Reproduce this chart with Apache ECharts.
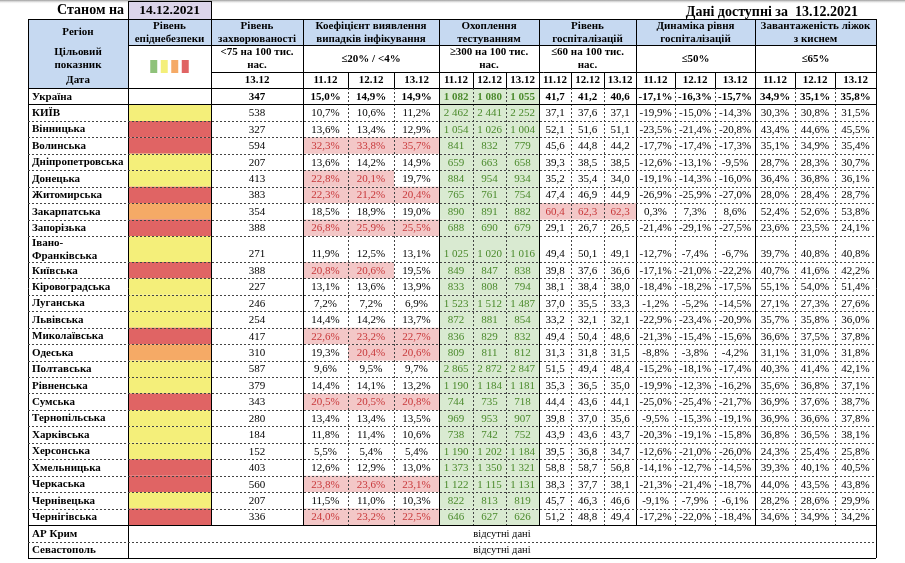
<!DOCTYPE html>
<html><head><meta charset="utf-8">
<script src="https://cdn.jsdelivr.net/npm/echarts@6/dist/echarts.min.js"></script>
<style>html,body{margin:0;padding:0;background:#fff}#c{width:905px;height:563px}</style>
</head><body><div id="c"></div>
<script>
// ---------------- DATA ----------------
const asOfLabel = 'Станом на';
const asOfDate = '14.12.2021';
const availLabel = 'Дані доступні за  13.12.2021';
const regions = ['Україна','КИЇВ','Вінницька','Волинська','Дніпропетровська','Донецька','Житомирська','Закарпатська','Запорізька','Івано-Франківська','Київська','Кіровоградська','Луганська','Львівська','Миколаївська','Одеська','Полтавська','Рівненська','Сумська','Тернопільська','Харківська','Херсонська','Хмельницька','Черкаська','Чернівецька','Чернігівська'];
const epiLevel = ['', 'y','r','r','y','y','r','o','r','y','r','y','y','y','r','o','y','y','r','y','y','y','r','r','y','r'];
const missingRegions = ['АР Крим','Севастополь'];
const missingText = 'відсутні дані';
const dates3 = ['11.12','12.12','13.12'];
const incidenceDate = ['13.12'];
const incidence = [347,538,327,594,207,413,383,354,388,271,388,227,246,254,417,310,587,379,343,280,184,152,403,560,207,336];
const pos11 = [15.0,10.7,13.6,32.3,13.6,22.8,22.3,18.5,26.8,11.9,20.8,13.1,7.2,14.4,22.6,19.3,9.6,14.4,20.5,13.4,11.8,5.5,12.6,23.8,11.5,24.0];
const pos12 = [14.9,10.6,13.4,33.8,14.2,20.1,21.2,18.9,25.9,12.5,20.6,13.6,7.2,14.2,23.2,20.4,9.5,14.1,20.5,13.4,11.4,5.4,12.9,23.6,11.0,23.2];
const pos13 = [14.9,11.2,12.9,35.7,14.9,19.7,20.4,19.0,25.5,13.1,19.5,13.9,6.9,13.7,22.7,20.6,9.7,13.2,20.8,13.5,10.6,5.4,13.0,23.1,10.3,22.5];
const test11 = [1082,2462,1054,841,659,884,765,890,688,1025,849,833,1523,872,836,809,2865,1190,744,969,738,1190,1373,1122,822,646];
const test12 = [1080,2441,1026,832,663,954,761,891,690,1020,847,808,1512,881,829,811,2872,1184,735,953,742,1202,1350,1115,813,627];
const test13 = [1055,2252,1004,779,658,934,754,882,679,1016,838,794,1487,854,832,812,2847,1181,718,907,752,1184,1321,1131,819,626];
const hosp11 = [41.7,37.1,52.1,45.6,39.3,35.2,47.4,60.4,29.1,49.4,39.8,38.1,37.0,33.2,49.4,31.3,51.5,35.3,44.4,39.8,43.9,39.5,58.8,38.3,45.7,51.2];
const hosp12 = [41.2,37.6,51.6,44.8,38.5,35.4,46.9,62.3,26.7,50.1,37.6,38.4,35.5,32.1,50.4,31.8,49.4,36.5,43.6,37.0,43.6,36.8,58.7,37.7,46.3,48.8];
const hosp13 = [40.6,37.1,51.1,44.2,38.5,34.0,44.9,62.3,26.5,49.1,36.6,38.0,33.3,32.1,48.6,31.5,48.4,35.0,44.1,35.6,43.7,34.7,56.8,38.1,46.6,49.4];
const dyn11 = [-17.1,-19.9,-23.5,-17.7,-12.6,-19.1,-26.9,0.3,-21.4,-12.7,-17.1,-18.4,-1.2,-22.9,-21.3,-8.8,-15.2,-19.9,-25.0,-9.5,-20.3,-12.6,-14.1,-21.3,-9.1,-17.2];
const dyn12 = [-16.3,-15.0,-21.4,-17.4,-13.1,-14.3,-25.9,7.3,-29.1,-7.4,-21.0,-18.2,-5.2,-23.4,-15.4,-3.8,-18.1,-12.3,-25.4,-15.3,-19.1,-21.0,-12.7,-21.4,-7.9,-22.0];
const dyn13 = [-15.7,-14.3,-20.8,-17.3,-9.5,-16.0,-27.0,8.6,-27.5,-6.7,-22.2,-17.5,-14.5,-20.9,-15.6,-4.2,-17.4,-16.2,-21.7,-19.1,-15.8,-26.0,-14.5,-18.7,-6.1,-18.4];
const oxy11 = [34.9,30.3,43.4,35.1,28.7,36.4,28.0,52.4,23.6,39.7,40.7,55.1,27.1,35.7,36.6,31.1,40.3,35.6,36.9,36.9,36.8,24.3,39.3,44.0,28.2,34.6];
const oxy12 = [35.1,30.8,44.6,34.9,28.3,36.8,28.4,52.6,23.5,40.8,41.6,54.0,27.3,35.8,37.5,31.0,41.4,36.8,37.6,36.6,36.5,25.4,40.1,43.5,28.6,34.9];
const oxy13 = [35.8,31.5,45.5,35.4,30.7,36.1,28.7,53.8,24.1,40.8,42.2,51.4,27.6,36.0,37.8,31.8,42.1,37.1,38.7,37.8,38.1,25.8,40.5,43.8,29.9,34.2];
const headRegion = ['Регіон','Цільовий\nпоказник','Дата'];
const headEpi = 'Рівень\nепіднебезпеки';
const legendLevels = ['g','y','o','r'];

// ---------------- LAYOUT / STYLE ----------------
const FONT = '"Liberation Serif","Times New Roman",serif';
const FS = 11;
const C = {blue:'#c6d9f1', lav:'#dcd5ea', y:'#f4ef7a', r:'#e06464', o:'#f5aa66', g:'#8fc27a',
  pinkBg:'#f3c7c7', pinkTx:'#c8383a', greenBg:'#d9ead1', greenTx:'#4b8a2c', line:'#000', dash:'#444'};
const colEdges = [28,128,211,303,348,394,439,473,506,539,571,604,636,675,715,755,795,835,876];
const headY = [1,19,45,72,88];
const rowH = 16.44, tallH = 26, wrapNames = {'Івано-Франківська':'Івано-\nФранківська'};

const fmt1 = v => v.toFixed(1).replace('.', ',');
const fmtPct = v => fmt1(v) + '%';
const fmtInt = v => String(v);
const fmtTh = v => v >= 1000 ? Math.floor(v/1000) + '\u00a0' + String(v%1000).padStart(3,'0') : String(v);

const groups = [
  {title:'Рівень\nзахворюваності', target:'<75 на 100 тис.\nнас.', dates:incidenceDate, series:[incidence], fmt:fmtInt, c0:2},
  {title:'Коефіцієнт виявлення\nвипадків інфікування', target:'≤20% / <4%', dates:dates3, series:[pos11,pos12,pos13], fmt:fmtPct, c0:3, hl:v=>v>20?'pink':null},
  {title:'Охоплення\nтестуванням', target:'≥300 на 100 тис.\nнас.', dates:dates3, series:[test11,test12,test13], fmt:fmtTh, c0:6, hl:v=>v>=300?'green':null},
  {title:'Рівень\nгоспіталізацій', target:'≤60 на 100 тис.\nнас.', dates:dates3, series:[hosp11,hosp12,hosp13], fmt:fmt1, c0:9, hl:v=>v>60?'pink':null},
  {title:'Динаміка рівня\nгоспіталізацій', target:'≤50%', dates:dates3, series:[dyn11,dyn12,dyn13], fmt:fmtPct, c0:12},
  {title:'Завантаженість ліжок\nз киснем', target:'≤65%', dates:dates3, series:[oxy11,oxy12,oxy13], fmt:fmtPct, c0:15}
];

const rowTop = [];
let yy = headY[4];
regions.forEach(n => { rowTop.push(yy); yy += wrapNames[n] ? tallH : rowH; });
const dataBottom = yy;
const missTop = missingRegions.map((n,i) => dataBottom + i*16.5);
const tableBottom = dataBottom + missingRegions.length*16.5;

const cells = [];
function cell(x0,y0,x1,y1,o){ cells.push(Object.assign({x0,y0,x1,y1},o)); }
const L = colEdges, R = colEdges[colEdges.length-1];

// header
cell(L[1],headY[0],L[2],headY[1],{fill:C.lav,text:asOfDate,bold:true,size:13.5});
cell(L[0]-100,headY[0],L[1]-4,headY[1],{text:asOfLabel,bold:true,size:14,align:'right'});
cell(600,headY[0]+1,R-18,headY[1]+2,{text:availLabel,bold:true,size:14,align:'right'});
cell(L[0],headY[1],L[1],headY[4],{fill:C.blue});
cell(L[0],headY[1],L[1],headY[2],{text:headRegion[0],bold:true});
cell(L[0],headY[2],L[1],headY[3],{text:headRegion[1],bold:true});
cell(L[0],headY[3],L[1],headY[4],{text:headRegion[2],bold:true});
cell(L[1],headY[1],L[2],headY[2],{fill:C.blue,text:headEpi,bold:true});
const lw = 7, lgap = 10.5, lx0 = (L[1]+L[2])/2 - (lgap*3+lw)/2;
legendLevels.forEach((k,i) => cell(lx0+i*lgap, 60, lx0+i*lgap+lw, 73, {fill:C[k]}));
groups.forEach(g => {
  const a = L[g.c0], b = L[g.c0+g.dates.length];
  cell(a,headY[1],b,headY[2],{fill:C.blue,text:g.title,bold:true});
  cell(a,headY[2],b,headY[3],{text:g.target,bold:true});
  g.dates.forEach((d,j)=> cell(L[g.c0+j],headY[3],L[g.c0+j+1],headY[4],{text:d,bold:true}));
});
// data rows
regions.forEach((n,i) => {
  const t = rowTop[i], bt = i+1<regions.length ? rowTop[i+1] : dataBottom;
  const bold = i === 0;
  cell(L[0]+4,t,L[1],bt,{text:wrapNames[n]||n,bold:true,align:'left'});
  if (epiLevel[i]) cell(L[1],t,L[2],bt,{fill:C[epiLevel[i]]});
  groups.forEach(g => g.series.forEach((s,j) => {
    const v = s[i], h = g.hl ? g.hl(v) : null;
    cell(L[g.c0+j],t,L[g.c0+j+1],bt,{
      fill: h==='pink'?C.pinkBg : h==='green'?C.greenBg : null,
      text: g.fmt(v), bold, bottom:true,
      color: h==='pink'?C.pinkTx : h==='green'?C.greenTx : '#000'});
  }));
});
missingRegions.forEach((n,i) => {
  const t = missTop[i], bt = t + 16.5;
  cell(L[0]+4,t,L[1],bt,{text:n,bold:true,align:'left'});
  cell(L[1],t,R,bt,{text:missingText,size:10.5});
});

// lines
const lines = [];
function ln(x1,y1,x2,y2,dash){ lines.push({x1,y1,x2,y2,dash}); }
ln(L[1],headY[0],L[2],headY[0]); ln(L[1],headY[0],L[1],headY[1]); ln(L[2],headY[0],L[2],headY[1]);
ln(L[0],headY[1],R,headY[1]); ln(L[1],headY[2],R,headY[2]); ln(L[2],headY[3],R,headY[3]); ln(L[0],headY[4],R,headY[4]);
ln(L[0],headY[1],L[0],tableBottom); ln(L[1],headY[1],L[1],tableBottom); ln(R,headY[1],R,tableBottom);
ln(L[2],headY[1],L[2],dataBottom);
groups.forEach(g => {
  ln(L[g.c0],headY[1],L[g.c0],dataBottom);
  for (let j=1;j<g.dates.length;j++){ ln(L[g.c0+j],headY[3],L[g.c0+j],headY[4]); ln(L[g.c0+j],headY[4],L[g.c0+j],dataBottom,true); }
});
rowTop.forEach((t,i) => { if (i>0) ln(L[0],t,R,t,i>1); });
ln(L[0],dataBottom,R,dataBottom);
ln(L[0],missTop[1],R,missTop[1],true);
ln(L[0],tableBottom,R,tableBottom);

// ---------------- CHART ----------------
const chart = echarts.init(document.getElementById('c'), null, {renderer:'canvas'});
const px = v => Math.round(v) + 0.5;
chart.setOption({
  animation:false,
  grid:{left:0,right:0,top:0,bottom:0},
  xAxis:{type:'value',min:0,max:905,show:false},
  yAxis:{type:'value',min:0,max:563,inverse:true,show:false},
  graphic:[{type:'rect',shape:{x:0,y:0,width:905,height:4},style:{fill:new echarts.graphic.LinearGradient(0,0,0,1,[{offset:0,color:'#9a9a9a'},{offset:1,color:'rgba(255,255,255,0)'}])},silent:true}],
  series:[
    {type:'custom', coordinateSystem:'cartesian2d', clip:false, data:cells.map((c,i)=>[c.x0,c.y0,i]),
     renderItem:(p,api)=>{
       const c = cells[p.dataIndex];
       const a = api.coord([c.x0,c.y0]), b = api.coord([c.x1,c.y1]);
       const ch = [];
       if (c.fill) ch.push({type:'rect',shape:{x:a[0],y:a[1],width:b[0]-a[0],height:b[1]-a[1]},style:{fill:c.fill}});
       if (c.text){
         const ty = c.bottom ? b[1]-7.5 : (a[1]+b[1])/2 + 0.5;
         ch.push({type:'text',style:{text:c.text,
           x: c.align==='left'?a[0] : c.align==='right'?b[0] : (a[0]+b[0])/2,
           y: ty,
           align:c.align||'center', verticalAlign:'middle', lineHeight:13,
           fill:c.color||'#000', fontFamily:FONT, fontSize:c.size||FS, fontWeight:c.bold?'bold':'normal'}});
       }
       return {type:'group',children:ch};
     }},
    {type:'custom', coordinateSystem:'cartesian2d', clip:false, data:lines.map((l,i)=>[l.x1,l.y1,i]),
     renderItem:(p,api)=>{
       const l = lines[p.dataIndex];
       const a = api.coord([l.x1,l.y1]), b = api.coord([l.x2,l.y2]);
       return {type:'line',shape:{x1:l.x1===l.x2?px(a[0]):a[0],y1:l.y1===l.y2?px(a[1]):a[1],x2:l.x1===l.x2?px(b[0]):b[0],y2:l.y1===l.y2?px(b[1]):b[1]},
         style:{stroke:l.dash?C.dash:C.line,lineWidth:1,lineDash:l.dash?[2,2]:null}};
     }}
  ]
});
</script></body></html>
